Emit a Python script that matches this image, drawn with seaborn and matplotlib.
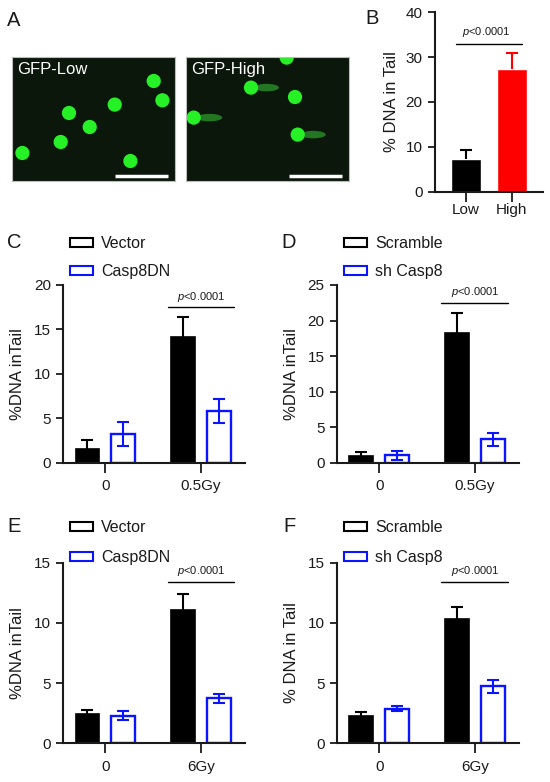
import numpy as np
import pandas as pd
import matplotlib
matplotlib.use("Agg")
from matplotlib import pyplot as plt
from matplotlib.patches import Patch, Ellipse
import seaborn as sb

W, H = 550, 782

# ---- panel A: comet assay images (nucleus centres, px inside each image) ----
low_x = [141.7, 150.4, 102.7, 57.0, 77.7, 48.7, 10.4, 118.4]
low_y = [24.0, 43.3, 47.6, 56.0, 70.0, 85.0, 96.0, 104.0]
high_x = [100.7, 65.0, 109.0, 7.7, 111.7]
high_y = [0.6, 30.6, 40.0, 60.6, 77.6]
high_tail_end = [None, 90.0, None, 33.3, 136.7]

# ---- panel B ----
b_groups = ["Low", "High"]
b_means = [7.2, 27.3]
b_err = [2.1, 3.7]

# ---- panels C-F ----
dose_cd = ["0", "0.5Gy"]
dose_ef = ["0", "6Gy"]

c_names = ["Vector", "Casp8DN"]
c_ctrl = [1.5, 14.1]
c_ctrl_err = [1.05, 2.3]
c_trt = [3.2, 5.8]
c_trt_err = [1.35, 1.35]

d_names = ["Scramble", "sh Casp8"]
d_ctrl = [0.9, 18.3]
d_ctrl_err = [0.55, 2.7]
d_trt = [1.05, 3.3]
d_trt_err = [0.6, 0.9]

e_names = ["Vector", "Casp8DN"]
e_ctrl = [2.45, 11.1]
e_ctrl_err = [0.3, 1.3]
e_trt = [2.3, 3.73]
e_trt_err = [0.4, 0.38]

f_names = ["Scramble", "sh Casp8"]
f_ctrl = [2.3, 10.3]
f_ctrl_err = [0.28, 1.05]
f_trt = [2.88, 4.72]
f_trt_err = [0.22, 0.52]

INK = "#1a1a1a"
BLUE = "#0a14ff"

sb.set_style("ticks")
plt.rcParams["font.family"] = ["Liberation Sans", "DejaVu Sans"]
plt.rcParams["mathtext.fontset"] = "custom"
plt.rcParams["mathtext.rm"] = "Liberation Sans"
plt.rcParams["mathtext.it"] = "Liberation Sans:italic"
plt.rcParams["text.color"] = INK
plt.rcParams["axes.labelcolor"] = INK
plt.rcParams["xtick.color"] = INK
plt.rcParams["ytick.color"] = INK
plt.rcParams["axes.edgecolor"] = INK

fig = plt.figure(figsize=(W / 100, H / 100), dpi=100)


def px_axes(left, top, right, bottom):
    return fig.add_axes([left / W, 1 - bottom / H, (right - left) / W, (bottom - top) / H])


def style_axes(ax, xpad):
    for s in ["top", "right"]:
        ax.spines[s].set_visible(False)
    for s in ["left", "bottom"]:
        ax.spines[s].set_linewidth(1.5)
    ax.tick_params(axis="y", length=5, width=1.3, pad=4, labelsize=11)
    ax.tick_params(axis="x", length=7, width=1.3, pad=xpad, labelsize=11)
    ax.set_xlabel("")


def up_error(ax, x, y, err, color):
    # GraphPad style: only the upper half of the error bar
    _, caps, _ = ax.errorbar(x, y, yerr=[np.zeros(len(err)), err], fmt="none", ecolor=color,
                             elinewidth=1.5, capsize=4.5, capthick=1.5, zorder=3)
    caps[0].set_visible(False)


def draw_image(ax, xs, ys, label, tails=None):
    ax.set_facecolor("#0a170a")
    ax.set_xlim(0, 163)
    ax.set_ylim(124, 0)
    ax.set_xticks([])
    ax.set_yticks([])
    for s in ax.spines.values():
        s.set_color("#bbbbbb")
        s.set_linewidth(0.8)
    if tails is not None:
        for x, y, end in zip(xs, ys, tails):
            if end is None:
                continue
            ax.add_patch(Ellipse(((x + end) / 2 + 3, y), end - x, 7.5,
                                 facecolor="#3cd83c", edgecolor="none", alpha=0.5))
    sb.scatterplot(x=xs, y=ys, s=105, color="#26f026", edgecolor="none", ax=ax, legend=False)
    ax.plot([103, 156], [119, 119], color="white", lw=2.5, solid_capstyle="butt")
    ax.text(5, 12.5, label, color="white", fontsize=12, va="center", ha="left")


def draw_grouped(ax, doses, names, ctrl, ctrl_err, trt, trt_err, ymax, ystep, ylabel, pbar):
    df = pd.DataFrame({
        "dose": doses + doses,
        "group": [names[0]] * 2 + [names[1]] * 2,
        "value": ctrl + trt,
    })
    sb.barplot(df, x="dose", y="value", hue="group", order=doses, hue_order=names,
               palette=["black", "white"], saturation=1, width=0.75, gap=0.34,
               errorbar=None, legend=False, ax=ax)
    bars_c, bars_t = ax.containers[0], ax.containers[1]
    for p in bars_c:
        p.set_edgecolor("black")
        p.set_linewidth(1.2)
    for p in bars_t:
        p.set_facecolor("white")
        p.set_edgecolor(BLUE)
        p.set_linewidth(1.7)
    xc = [p.get_x() + p.get_width() / 2 for p in bars_c]
    xt = [p.get_x() + p.get_width() / 2 for p in bars_t]
    up_error(ax, xc, ctrl, ctrl_err, "black")
    ax.errorbar(xt, trt, yerr=trt_err, fmt="none", ecolor=BLUE,
                elinewidth=1.5, capsize=4.5, capthick=1.5, zorder=3)
    ax.set_xlim(-0.44, 1.46)
    ax.set_ylim(0, ymax)
    ax.set_yticks(np.arange(0, ymax + 0.1, ystep))
    ax.set_ylabel(ylabel, fontsize=12, labelpad=6)
    ax.plot([1 - 0.35, 1 + 0.35], [pbar, pbar], color="black", lw=1)
    ax.annotate("$p$<0.0001", (1, pbar), xytext=(0, 2.5), textcoords="offset points",
                ha="center", va="bottom", fontsize=8)
    style_axes(ax, xpad=5)
    handles = [Patch(facecolor="white", edgecolor="black", lw=1.5, label=names[0]),
               Patch(facecolor="white", edgecolor=BLUE, lw=1.5, label=names[1])]
    return handles


def add_legend(ax, handles, left, top, spacing):
    ax.legend(handles=handles, loc="upper left", bbox_to_anchor=(left / W, 1 - top / H),
              bbox_transform=fig.transFigure, frameon=False, fontsize=11.5,
              handlelength=1.45, handleheight=0.55, handletextpad=0.5,
              labelspacing=spacing, borderpad=0, borderaxespad=0)


# panel A
ax_lo = px_axes(12, 57, 175, 181)
draw_image(ax_lo, low_x, low_y, "GFP-Low")
ax_hi = px_axes(186, 57, 349, 181)
draw_image(ax_hi, high_x, high_y, "GFP-High", tails=high_tail_end)

# panel B
ax_b = px_axes(435, 12.3, 543, 191.5)
sb.barplot(x=b_groups, y=b_means, hue=b_groups, palette=["black", "#ff0000"],
           saturation=1, width=0.66, errorbar=None, legend=False, ax=ax_b)
b_cols = ["black", "#ff0000"]
for p in ax_b.patches:
    xm = p.get_x() + p.get_width() / 2
    i = int(round(xm))
    up_error(ax_b, [xm], [b_means[i]], [b_err[i]], b_cols[i])
ax_b.set_xlim(-0.667, 1.68)
ax_b.set_ylim(0, 40)
ax_b.set_yticks([0, 10, 20, 30, 40])
ax_b.set_ylabel("% DNA in Tail", fontsize=12, labelpad=5)
ax_b.plot([-0.21, 1.23], [32.9, 32.9], color="black", lw=1)
ax_b.annotate("$p$<0.0001", (0.45, 32.9), xytext=(0, 4), textcoords="offset points",
              ha="center", va="bottom", fontsize=8)
style_axes(ax_b, xpad=1)

# panels C-F
ax_c = px_axes(63.3, 285, 245, 462.7)
h = draw_grouped(ax_c, dose_cd, c_names, c_ctrl, c_ctrl_err, c_trt, c_trt_err, 20, 5,
                 "%DNA inTail", 17.5)
add_legend(ax_c, h, 70, 236, 0.82)

ax_d = px_axes(337, 285, 519, 462.7)
h = draw_grouped(ax_d, dose_cd, d_names, d_ctrl, d_ctrl_err, d_trt, d_trt_err, 25, 5,
                 "%DNA inTail", 22.5)
add_legend(ax_d, h, 344, 236, 0.82)

ax_e = px_axes(63.3, 562.7, 245, 743.3)
h = draw_grouped(ax_e, dose_ef, e_names, e_ctrl, e_ctrl_err, e_trt, e_trt_err, 15, 5,
                 "%DNA inTail", 13.4)
add_legend(ax_e, h, 70, 520, 0.95)

ax_f = px_axes(337, 562.7, 519, 743.3)
h = draw_grouped(ax_f, dose_ef, f_names, f_ctrl, f_ctrl_err, f_trt, f_trt_err, 15, 5,
                 "% DNA in Tail", 13.4)
add_legend(ax_f, h, 344, 520, 0.95)

# panel letters
for lab, x, y in [("A", 14, 20), ("B", 372, 18), ("C", 14, 242), ("D", 289, 242),
                  ("E", 14, 527), ("F", 289, 527)]:
    fig.text(x / W, 1 - y / H, lab, fontsize=14.5, ha="center", va="center")

fig.savefig("out.png", dpi=100)
